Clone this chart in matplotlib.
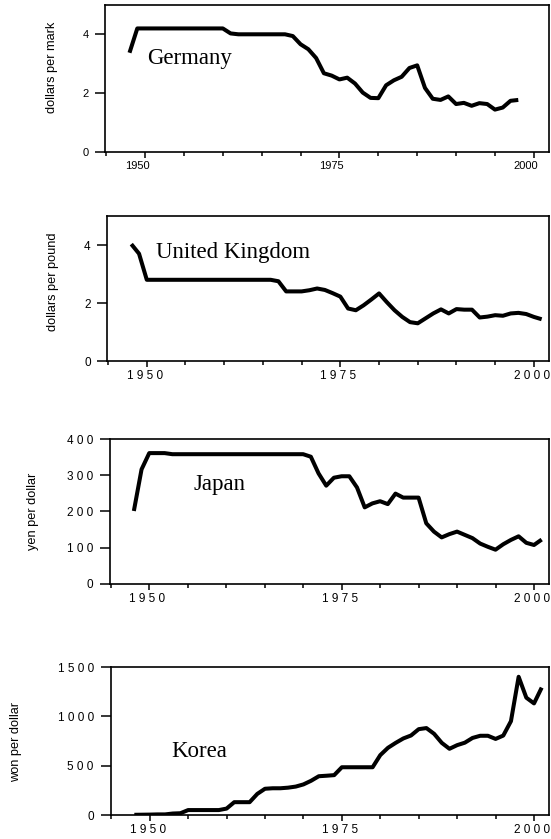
import matplotlib.pyplot as plt
import matplotlib.transforms as mtransforms
from matplotlib.ticker import FixedLocator, MultipleLocator

# Figure size in pixels (dpi 100)
W, H = 551, 839

# Exchange rate data
germany_years = list(range(1948, 1999))
germany_rate = [3.37, 4.20,
                4.20, 4.20, 4.20, 4.20, 4.20, 4.20, 4.20, 4.20, 4.20, 4.20, 4.20,
                4.03, 4.00, 4.00, 4.00, 4.00, 4.00, 4.00, 4.00,
                3.94, 3.66, 3.49, 3.19, 2.67, 2.59, 2.46, 2.52, 2.32, 2.01,
                1.83, 1.82, 2.26, 2.43, 2.55, 2.85, 2.94, 2.17, 1.80, 1.76,
                1.88, 1.62, 1.66, 1.56, 1.65, 1.62, 1.43, 1.50, 1.73, 1.76]

uk_years = list(range(1948, 2002))
uk_rate = [4.03, 3.70,
           2.80, 2.80, 2.80, 2.80, 2.80, 2.80, 2.80, 2.80, 2.80, 2.80,
           2.80, 2.80, 2.80, 2.80, 2.80, 2.80, 2.80,
           2.75, 2.40, 2.40, 2.40,
           2.44, 2.50, 2.45, 2.34, 2.22, 1.81, 1.75, 1.92, 2.12, 2.33,
           2.03, 1.75, 1.52, 1.34, 1.30, 1.47, 1.64, 1.78, 1.64, 1.79,
           1.77, 1.77, 1.50, 1.53, 1.58, 1.56, 1.64, 1.66, 1.62, 1.52,
           1.44]

japan_years = list(range(1948, 2002))
japan_rate = [201, 316, 361, 361, 361,
              358, 358, 358, 358, 358, 358, 358, 358, 358,
              358, 358, 358, 358, 358, 358, 358, 358, 358,
              351, 305, 271, 293, 297, 297, 266, 211, 222, 228,
              220, 249, 238, 238, 238, 167, 144, 128, 137, 144,
              135, 126, 111, 102, 94, 109, 121, 131, 113, 107,
              122]

korea_years = list(range(1948, 2002))
korea_rate = [2, 3, 4, 6, 6, 15, 18,
              50, 50, 50, 50, 50,
              65, 130, 130, 130,
              214, 266, 271, 271, 277, 288, 310,
              347, 393, 398, 404, 484, 484, 484, 484, 484, 607,
              681, 731, 776, 806, 870, 881, 823, 731, 671, 708,
              733, 781, 803, 803, 771, 805, 951, 1401, 1189, 1131,
              1291]

year_ticks = [1950, 1975, 2000]


def px_rect(left, right, top, bottom):
    """Convert a pixel box (origin top-left) to a figure-fraction rect."""
    return [left / W, 1 - bottom / H, (right - left) / W, (bottom - top) / H]


def spaced(value):
    """Tick text with the wide letter spacing used in the lower panels."""
    return " ".join(str(value))


def draw_panel(fig, rect, years, rate, ylim, yticks, ylabel, ylabel_xy,
               country, country_xy, spread, label_shift):
    ax = fig.add_axes(rect)
    ax.plot(years, rate, color="black", lw=2.9, solid_joinstyle="round",
            solid_capstyle="butt")

    ax.set_xlim(1944.9, 2001.95)
    ax.set_ylim(*ylim)

    # Ticks
    size = 8.5 if spread else 8
    ax.xaxis.set_major_locator(FixedLocator(year_ticks))
    ax.xaxis.set_minor_locator(MultipleLocator(5))
    ax.set_xticks(year_ticks)
    ax.set_xticklabels([spaced(y) if spread else str(y) for y in year_ticks])
    ax.set_yticks(yticks)
    ax.set_yticklabels([spaced(v) if spread else str(v) for v in yticks])
    ax.tick_params(axis="y", direction="out", length=7, width=1.1, pad=5,
                   labelsize=size)
    ax.tick_params(axis="x", which="major", direction="out", length=4.2,
                   width=1.1, pad=2.5, labelsize=size)
    ax.tick_params(axis="x", which="minor", direction="out", length=2.6,
                   width=1.1)

    # Shift year labels a bit to the left, as in the original
    offset = mtransforms.ScaledTranslation(label_shift / 100, 0,
                                           fig.dpi_scale_trans)
    for lab in ax.get_xticklabels():
        lab.set_transform(lab.get_transform() + offset)

    for spine in ax.spines.values():
        spine.set_linewidth(1.2)

    # Country name inside the panel
    ax.text(country_xy[0], country_xy[1], country, transform=ax.transAxes,
            family=["Liberation Serif", "DejaVu Serif"], fontsize=16.5,
            ha="left", va="baseline")

    # Y axis label
    fig.text(ylabel_xy[0] / W, 1 - ylabel_xy[1] / H, ylabel, rotation=90,
             ha="center", va="center", fontsize=9.2)
    return ax


def main():
    plt.rcParams["font.family"] = ["Liberation Sans", "DejaVu Sans"]
    fig = plt.figure(figsize=(W / 100, H / 100), dpi=100)

    draw_panel(fig, px_rect(105.4, 549, 5, 151.5), germany_years,
               germany_rate, (0, 5), [0, 2, 4], "dollars per mark",
               (52, 67), "Germany", (0.094, 0.595), False, -8)

    draw_panel(fig, px_rect(107.3, 549, 216, 361), uk_years, uk_rate,
               (0, 5), [0, 2, 4], "dollars per pound", (52.7, 282),
               "United Kingdom", (0.11, 0.712), True, -2)

    draw_panel(fig, px_rect(110, 549, 439, 583.7), japan_years, japan_rate,
               (0, 400), [0, 100, 200, 300, 400], "yen per dollar",
               (33.4, 511.7), "Japan", (0.191, 0.647), True, -2)

    draw_panel(fig, px_rect(110.5, 549, 667, 815), korea_years, korea_rate,
               (0, 1500), [0, 500, 1000, 1500], "won per dollar",
               (15.8, 742), "Korea", (0.138, 0.394), True, -2)

    fig.savefig("out.png", dpi=100)


if __name__ == "__main__":
    main()
